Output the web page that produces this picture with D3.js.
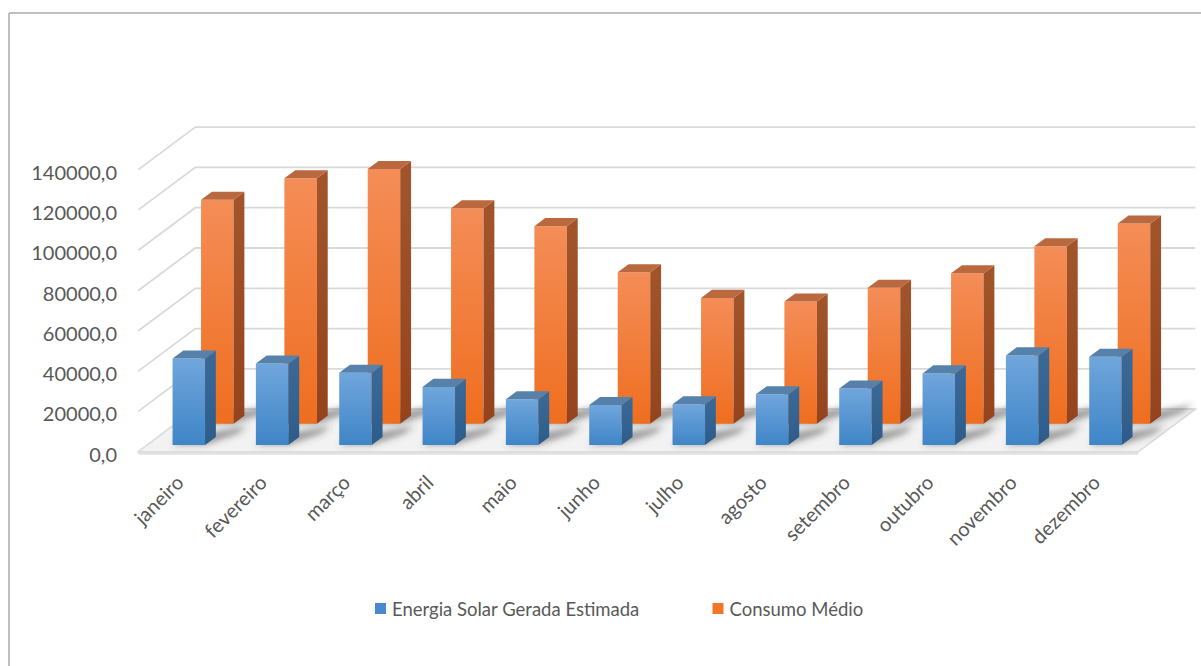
<!DOCTYPE html>
<html lang="pt">
<head>
<meta charset="utf-8">
<script src="https://cdn.jsdelivr.net/npm/d3@7/dist/d3.min.js"></script>
<style>
  html, body { margin: 0; padding: 0; background: #ffffff; }
  svg { display: block; }
  text { font-family: Lato, "Open Sans", sans-serif; fill: #595959; }
</style>
</head>
<body>
<svg id="chart" width="1201" height="666"></svg>
<script>
// Monthly estimated solar generation vs. average consumption
const months = ["janeiro", "fevereiro", "março", "abril", "maio", "junho",
                "julho", "agosto", "setembro", "outubro", "novembro", "dezembro"];
const solarGerada = [43000, 40500, 35900, 28900, 22700, 19900, 20300, 25200, 28100, 35600, 44500, 43800];
const consumoMedio = [111200, 121900, 126500, 107000, 98100, 75200, 62500, 60700, 67500, 74700, 88100, 99400];
const yTicks = [0, 20000, 40000, 60000, 80000, 100000, 120000, 140000];
const seriesNames = ["Energia Solar Gerada Estimada", "Consumo Médio"];

const svg = d3.select("#chart");
const W = 1201, H = 666;

// Oblique 3D projection: the floor recedes up and to the right
const DX = 57, DY = -42.5;
const proj = (px, py, d) => [px + d * DX, py + d * DY];

const x = d3.scaleBand().domain(months).range([138.3, 1138.3]).paddingInner(0).paddingOuter(0);
const y = d3.scaleLinear().domain([0, 140000]).range([451.7, 169.6]);
const step = x.step();
const y0 = y(0);
const xL = x.range()[0], xR = x.range()[1];

const ptBR = d3.formatLocale({ decimal: ",", thousands: ".", grouping: [3], currency: ["R$", ""] });
const fmt = ptBR.format(".1f");

// chart frame
svg.append("line").attr("x1", 9).attr("y1", 13).attr("x2", 9).attr("y2", H)
  .attr("stroke", "#bfbfbf").attr("stroke-width", 2);
svg.append("line").attr("x1", 9).attr("y1", 13).attr("x2", W).attr("y2", 13)
  .attr("stroke", "#bfbfbf").attr("stroke-width", 2);

const defs = svg.append("defs");
function vGrad(id, top, bottom) {
  const g = defs.append("linearGradient").attr("id", id)
    .attr("x1", 0).attr("y1", 0).attr("x2", 0).attr("y2", 1);
  g.append("stop").attr("offset", "0%").attr("stop-color", top);
  g.append("stop").attr("offset", "100%").attr("stop-color", bottom);
}
vGrad("blueFront", "#70a6dc", "#3f85c7");
vGrad("blueSide", "#3c6a98", "#2d5c8b");
vGrad("orangeFront", "#f48d57", "#ef6e1f");
vGrad("orangeSide", "#a2552b", "#95431c");
defs.append("filter").attr("id", "soft").attr("x", "-50%").attr("y", "-50%")
  .attr("width", "200%").attr("height", "200%")
  .append("feGaussianBlur").attr("stdDeviation", 3);

const styles = [
  { front: "url(#blueFront)", side: "url(#blueSide)", top: "#5581ab", legend: "#4a89cf" },
  { front: "url(#orangeFront)", side: "url(#orangeSide)", top: "#ba683e", legend: "#f0762a" }
];

// gridlines: left-wall diagonals and back-wall horizontals
const grid = svg.append("g").attr("stroke", "#d9d9d9").attr("stroke-width", 1.8).attr("fill", "none");
yTicks.forEach(t => {
  const a = [xL, y(t)], b = proj(xL, y(t), 1), c = proj(xR, y(t), 1);
  grid.append("path").attr("d", d3.line()([a, b, c]));
});

// floor
const floorPts = [proj(xL, y0, 0), proj(xR, y0, 0), proj(xR, y0, 1), proj(xL, y0, 1)];
svg.append("polygon").attr("points", floorPts.map(p => p.join(",")).join(" "))
  .attr("fill", "#f2f2f2").attr("stroke", "#dcdcdc").attr("stroke-width", 1.5);
svg.append("rect").attr("x", xL).attr("y", y0).attr("width", xR - xL).attr("height", 3)
  .attr("fill", "#e0e0e0");

// y-axis labels
svg.append("g").selectAll("text").data(yTicks).join("text")
  .attr("x", 117).attr("y", d => y(d) + 2)
  .attr("text-anchor", "end").attr("dominant-baseline", "central")
  .attr("font-size", 20)
  .text(d => fmt(d));

// bars: back row (consumption) first, front row (solar) last
const series = [solarGerada, consumoMedio];
const barW = step * 0.39, barD = 0.19;
[1, 0].forEach(s => {
  const dC = (s + 0.5) / 2, d0 = dC - barD / 2, d1 = dC + barD / 2;
  const st = styles[s];
  const g = svg.append("g");
  months.forEach((m, i) => {
    const v = series[s][i];
    const xl = x(m) + (step - barW) / 2, xr = xl + barW, yv = y(v);
    const poly = pts => pts.map(p => p.join(",")).join(" ");
    // shadow cast onto the floor
    const A = proj(xl, y0, d0), B = proj(xr, y0, d0), C = proj(xr, y0, d1), D = proj(xl, y0, d1);
    const T = [32, -11];
    g.append("polygon")
      .attr("points", poly([A, B, [B[0] + T[0], B[1] + T[1]], [C[0] + T[0], C[1] + T[1]], D]))
      .attr("fill", "rgba(70,70,70,0.5)").attr("filter", "url(#soft)");
    g.append("polygon")
      .attr("points", poly([proj(xl, yv, d0), proj(xr, yv, d0), proj(xr, y0, d0), proj(xl, y0, d0)]))
      .attr("fill", st.front);
    g.append("polygon")
      .attr("points", poly([proj(xr, yv, d0), proj(xr, yv, d1), proj(xr, y0, d1), proj(xr, y0, d0)]))
      .attr("fill", st.side);
    g.append("polygon")
      .attr("points", poly([proj(xl, yv, d0), proj(xr, yv, d0), proj(xr, yv, d1), proj(xl, yv, d1)]))
      .attr("fill", st.top);
  });
});

// category labels, rotated
svg.append("g").selectAll("text").data(months).join("text")
  .attr("transform", d => `translate(${x(d) + step / 2 + 5},${484}) rotate(-45)`)
  .attr("text-anchor", "end")
  .attr("font-size", 20)
  .text(d => d);

// legend
const legendX = [375, 712.5];
const lg = svg.append("g");
seriesNames.forEach((name, i) => {
  lg.append("rect").attr("x", legendX[i]).attr("y", 603).attr("width", 11).attr("height", 11)
    .attr("fill", styles[i].legend);
  lg.append("text").attr("x", legendX[i] + 17).attr("y", 616)
    .attr("font-size", 18.5).text(name);
});
</script>
</body>
</html>
